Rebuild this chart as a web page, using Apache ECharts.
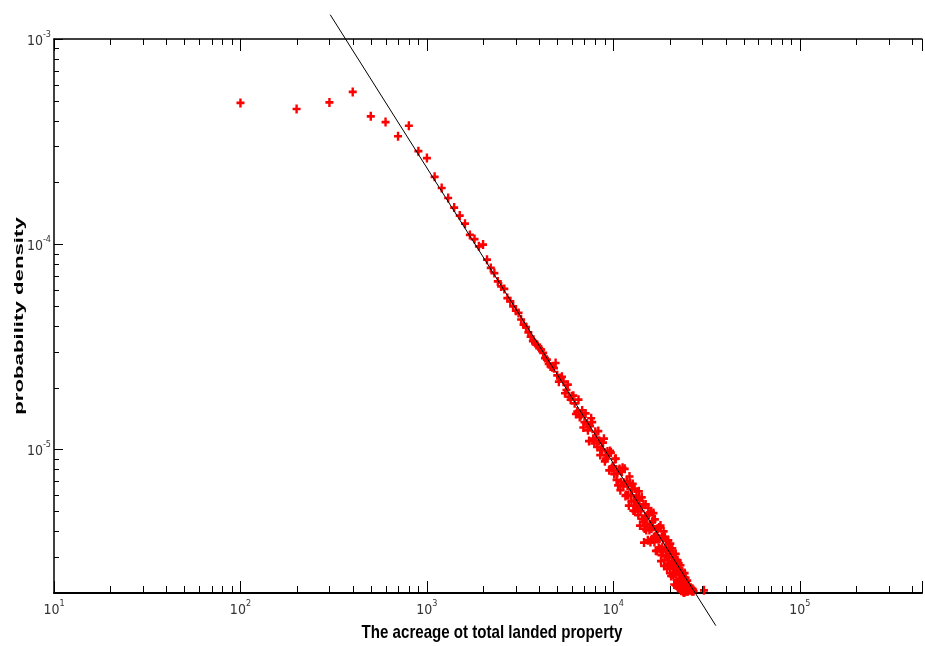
<!DOCTYPE html>
<html><head><meta charset="utf-8">
<script src="https://cdn.jsdelivr.net/npm/echarts@6/dist/echarts.min.js"></script>
<style>html,body{margin:0;padding:0;background:#fff}#c{width:925px;height:646px}</style>
</head><body><div id="c"></div>
<script>
// acreage (x) and probability density (y)
const acreage = [
  100,200,300,400,500,600,700,800,900,1000,
  1100,1200,1300,1400,1500,1600,1700,1800,1900,2000,
  2100,2200,2300,2400,2500,2600,2700,2800,2900,3000,
  3100,3200,3300,3400,3500,3600,3700,3800,3900,4000,
  4100,4200,4300,4400,4500,4600,4700,4800,4900,5000,
  5200,5400,5600,5800,6000,6200,6400,6600,6800,7000,
  7200,7400,7600,7800,8000,8200,8400,8600,8800,9000,
  9200,9400,9600,9800,10000,10200,10400,10600,10800,11000,
  11200,11400,11600,11800,12000,12200,12400,12600,12800,13000,
  13200,13400,13600,13800,14000,14200,14400,14600,14800,15000,
  15200,15400,15600,15800,16000,16200,16400,16600,16800,17000,
  17200,17400,17600,17800,18000,18200,18400,18600,18800,19000,
  19200,19400,19600,19800,20000,20200,20400,20600,20800,21000,
  21200,21400,21600,21800,22000,22200,22400,22600,22800,23000,
  23200,23400,23600,23800,24000,24200,24400,24600,24800,25000,
  25200,25400,25600,25800,26000,26200,26400,26600,26800,27000,
  30600
];
const density = [
  4.88e-4,4.56e-4,4.91e-4,5.52e-4,4.20e-4,3.94e-4,3.36e-4,3.78e-4,2.84e-4,2.63e-4,
  2.13e-4,1.88e-4,1.68e-4,1.51e-4,1.38e-4,1.26e-4,1.11e-4,1.06e-4,9.77e-5,9.96e-5,
  8.41e-5,7.67e-5,7.24e-5,6.59e-5,6.23e-5,6.06e-5,5.47e-5,5.27e-5,4.98e-5,4.75e-5,
  4.63e-5,4.30e-5,4.06e-5,3.95e-5,3.72e-5,3.55e-5,3.37e-5,3.30e-5,3.24e-5,3.12e-5,
  3.07e-5,2.96e-5,2.79e-5,2.74e-5,2.61e-5,2.54e-5,2.52e-5,2.49e-5,2.64e-5,2.30e-5,
  2.23e-5,2.14e-5,1.95e-5,1.81e-5,1.82e-5,1.68e-5,1.53e-5,1.44e-5,1.55e-5,1.36e-5,
  1.34e-5,1.10e-5,1.42e-5,1.13e-5,1.22e-5,1.03e-5,1.10e-5,9.96e-6,1.08e-5,8.76e-6,
  9.36e-6,9.54e-6,9.84e-6,8.11e-6,8.29e-6,8.99e-6,7.12e-6,6.69e-6,8.04e-6,6.93e-6,
  8.14e-6,6.88e-6,5.94e-6,7.01e-6,5.99e-6,7.39e-6,5.97e-6,6.39e-6,5.04e-6,6.45e-6,
  5.28e-6,5.68e-6,4.79e-6,5.70e-6,5.01e-6,5.84e-6,4.45e-6,3.52e-6,4.72e-6,4.05e-6,
  4.77e-6,5.19e-6,4.06e-6,3.54e-6,4.12e-6,4.48e-6,4.90e-6,3.54e-6,3.77e-6,4.06e-6,
  3.21e-6,3.70e-6,4.17e-6,3.28e-6,2.86e-6,3.75e-6,3.20e-6,3.99e-6,2.89e-6,3.29e-6,
  3.61e-6,2.63e-6,2.98e-6,3.30e-6,2.71e-6,3.48e-6,2.42e-6,2.87e-6,2.62e-6,3.09e-6,
  2.20e-6,2.63e-6,3.10e-6,2.32e-6,2.67e-6,2.12e-6,2.79e-6,2.33e-6,2.09e-6,2.45e-6,
  2.14e-6,2.56e-6,2.13e-6,2.28e-6,2.01e-6,2.15e-6,2.37e-6,2.04e-6,2.20e-6,1.79e-6,
  2.08e-6,2.15e-6,1.88e-6,2.06e-6,2.12e-6,1.93e-6,2.04e-6,1.71e-6,2.07e-6,1.85e-6,
  2.06e-6
];
// the in-between bins of the dense tail
const acreageOdd = [
  5100,5300,5500,5700,5900,6100,6300,6500,6700,6900,
  7100,7300,7500,7700,7900,8100,8300,8500,8700,8900,
  9100,9300,9500,9700,9900,10100,10300,10500,10700,10900,
  11100,11300,11500,11700,11900,12100,12300,12500,12700,12900,
  13100,13300,13500,13700,13900,14100,14300,14500,14700,14900,
  15100,15300,15500,15700,15900,16100,16300,16500,16700,16900,
  17100,17300,17500,17700,17900,18100,18300,18500,18700,18900,
  19100,19300,19500,19700,19900,20100,20300,20500,20700,20900,
  21100,21300,21500,21700,21900,22100,22300,22500,22700,22900,
  23100,23300,23500,23700,23900,24100,24300,24500,24700,24900,
  25100,25300,25500,25700,25900,26100,26300,26500,26700,26900
];
const densityOdd = [
  2.14e-5,2.26e-5,1.88e-5,2.07e-5,1.75e-5,1.83e-5,1.49e-5,1.75e-5,1.47e-5,1.28e-5,
  1.50e-5,1.24e-5,1.30e-5,1.36e-5,1.07e-5,1.14e-5,1.23e-5,9.40e-6,1.00e-5,1.13e-5,
  9.02e-6,9.79e-6,7.92e-6,9.66e-6,8.25e-6,7.59e-6,9.02e-6,7.66e-6,7.92e-6,6.34e-6,
  7.80e-6,6.61e-6,8.05e-6,6.00e-6,6.66e-6,5.33e-6,6.86e-6,5.59e-6,6.80e-6,5.63e-6,
  4.99e-6,5.96e-6,5.17e-6,6.26e-6,4.26e-6,5.22e-6,4.60e-6,5.41e-6,4.12e-6,5.40e-6,
  4.34e-6,3.61e-6,4.82e-6,4.28e-6,4.99e-6,3.66e-6,4.23e-6,3.74e-6,4.57e-6,3.21e-6,
  3.75e-6,4.11e-6,3.32e-6,3.68e-6,4.26e-6,3.06e-6,3.33e-6,3.67e-6,2.71e-6,3.75e-6,
  3.02e-6,3.28e-6,2.77e-6,3.61e-6,2.98e-6,2.50e-6,3.20e-6,2.74e-6,3.30e-6,2.46e-6,
  2.80e-6,2.48e-6,2.90e-6,2.18e-6,2.55e-6,2.89e-6,2.27e-6,2.53e-6,2.29e-6,2.73e-6,
  2.05e-6,2.33e-6,2.45e-6,2.02e-6,2.19e-6,2.50e-6,2.05e-6,2.21e-6,2.05e-6,2.30e-6,
  2.04e-6,2.09e-6,1.78e-6,2.09e-6,1.91e-6,2.09e-6,1.96e-6,2.10e-6,1.77e-6,2.04e-6
];
// fitted power-law line end points
const fitX = [303, 35430];
const fitY = [1.313e-3, 1.387e-6];
// axis ranges
const xRange = [10, 452000];
const yRange = [2e-6, 1e-3];
// minor tick positions
const xMinorTicks = [];
[10,100,1000,10000,100000].forEach(d => { for (let m = 2; m <= 9; m++) if (d*m < xRange[1]) xMinorTicks.push(d*m); });
const yMinorTicks = [];
[1e-6,1e-5,1e-4].forEach(d => { for (let m = 2; m <= 9; m++) if (d*m > yRange[0]*1.01) yMinorTicks.push(d*m); });

const tickFont = "'Liberation Sans Narrow','Arial Narrow','DejaVu Sans Condensed','Liberation Sans',sans-serif";
function powLabel(v) {
  const l = Math.log10(v), e = Math.round(l);
  if (Math.abs(l - e) > 1e-6) return '';
  return '{b|10}{s|' + e + '}';
}
const rich = {
  b: {fontSize: 14, fontFamily: tickFont, color: '#333', lineHeight: 18, verticalAlign: 'bottom'},
  s: {fontSize: 9, fontFamily: tickFont, color: '#333', lineHeight: 9, verticalAlign: 'top'}
};

const points = acreage.map((a, i) => [a, density[i]])
  .concat(acreageOdd.map((a, i) => [a, densityOdd[i]]));

const chart = echarts.init(document.getElementById('c'), null, {renderer: 'canvas'});
const plus = 'path://M35,0H65V35H100V65H65V100H35V65H0V35H35Z';
chart.setOption({
  animation: false,
  backgroundColor: '#fff',
  grid: {left: 54, top: 39, right: -1, bottom: 53},
  xAxis: [
    {type: 'log', logBase: 10, min: xRange[0], max: xRange[1], position: 'bottom',
     axisLine: {lineStyle: {color: '#000', width: 2}},
     axisTick: {inside: true, length: 12, lineStyle: {color: '#000', width: 1}},
     axisLabel: {formatter: powLabel, rich: rich, margin: 6},
     splitLine: {show: false}},
    {type: 'log', logBase: 10, min: xRange[0], max: xRange[1], position: 'top',
     axisLine: {lineStyle: {color: '#000', width: 1.5}},
     axisTick: {inside: true, length: 12, lineStyle: {color: '#000', width: 1}},
     axisLabel: {show: false}, splitLine: {show: false}}
  ],
  yAxis: {type: 'log', logBase: 10, min: yRange[0], max: yRange[1], position: 'left',
    axisLine: {lineStyle: {color: '#000', width: 1.5}},
    axisTick: {inside: true, length: 9, lineStyle: {color: '#000', width: 1}},
    axisLabel: {formatter: powLabel, rich: rich, margin: 3},
    splitLine: {show: false}},
  graphic: [
    {type: 'text', x: 492, y: 633, scaleX: 0.816, silent: true,
     style: {text: 'The acreage ot total landed property', font: "bold 18.5px 'Liberation Sans', Arial, sans-serif",
             fill: '#000', align: 'center', verticalAlign: 'middle'}},
    {type: 'text', x: 19, y: 316, rotation: Math.PI / 2, scaleX: 1.71, silent: true,
     style: {text: 'probability density', font: "bold 13px 'Liberation Sans', Arial, sans-serif",
             fill: '#000', align: 'center', verticalAlign: 'middle'}}
  ],
  series: [
    {type: 'scatter', xAxisIndex: 0, yAxisIndex: 0, symbol: plus, symbolSize: [8, 9],
     itemStyle: {color: '#ff0000', opacity: 1}, z: 2, data: points},
    {type: 'line', xAxisIndex: 0, yAxisIndex: 0, clip: false, symbol: 'none', z: 3,
     lineStyle: {color: '#000', width: 1}, silent: true,
     data: fitX.map((x, i) => [x, fitY[i]])},
    {type: 'custom', xAxisIndex: 0, yAxisIndex: 0, clip: false, silent: true, z: 4,
     data: xMinorTicks.map(v => [v, 1e-4]),
     renderItem: function (params, api) {
       const cs = params.coordSys;
       const px = Math.round(api.coord([api.value(0), api.value(1)])[0]) + 0.5;
       const b = cs.y + cs.height, t = cs.y;
       return {type: 'group', children: [
         {type: 'line', shape: {x1: px, y1: b, x2: px, y2: b - 7}, style: {stroke: '#000', lineWidth: 1}},
         {type: 'line', shape: {x1: px, y1: t, x2: px, y2: t + 6}, style: {stroke: '#000', lineWidth: 1}}
       ]};
     }},
    {type: 'custom', xAxisIndex: 0, yAxisIndex: 0, clip: false, silent: true, z: 4,
     data: yMinorTicks.map(v => [100, v]),
     renderItem: function (params, api) {
       const cs = params.coordSys;
       const py = Math.round(api.coord([api.value(0), api.value(1)])[1]) + 0.5;
       return {type: 'line', shape: {x1: cs.x, y1: py, x2: cs.x + 5, y2: py}, style: {stroke: '#000', lineWidth: 1}};
     }}
  ]
});
</script>
</body></html>
